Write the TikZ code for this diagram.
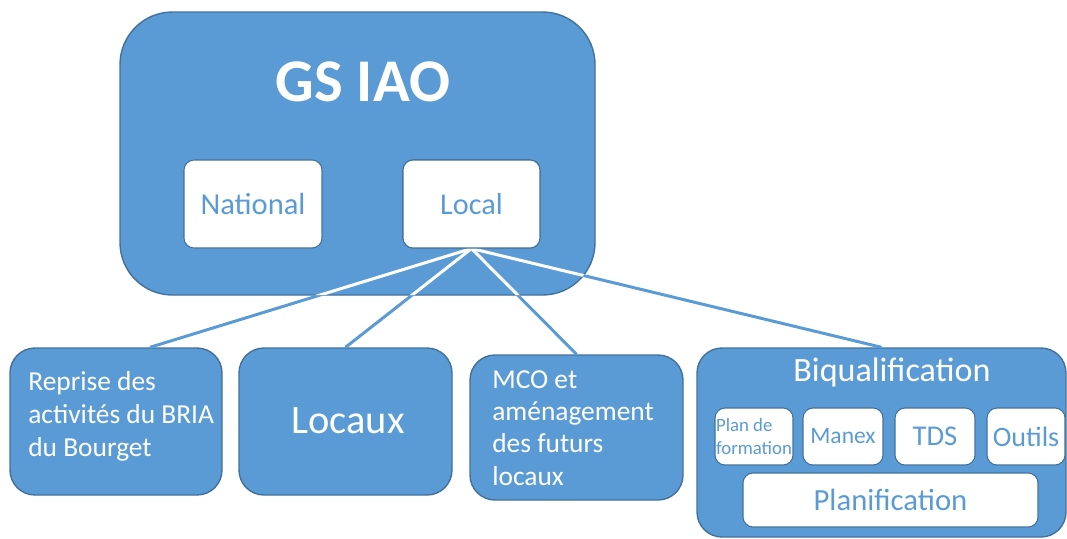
\documentclass[tikz,border=0pt]{standalone}
\usepackage{fontspec}
\setmainfont{Carlito}
\definecolor{fillblue}{HTML}{5B9BD5}
\definecolor{edgeblue}{HTML}{41719C}
\tikzset{
  bigbox/.style={draw=edgeblue, line width=0.8pt, fill=fillblue, rounded corners=1.05cm, inner sep=0pt},
  childbox/.style={draw=edgeblue, line width=0.8pt, fill=fillblue, rounded corners=0.5cm, inner sep=0pt},
  whitebox/.style={draw=edgeblue, line width=0.6pt, fill=white, rounded corners=0.2cm, inner sep=0pt, text=fillblue},
  wtxt/.style={text=white, inner sep=0pt, align=left},
  conn/.style={line width=1.7pt},
}
\begin{document}
\begin{tikzpicture}[x=0.02cm, y=-0.02cm]
\useasboundingbox (0,0) rectangle (1067,538);
% top group
\node[bigbox, minimum width=475*0.02cm, minimum height=283*0.02cm] (main) at (357.5,153.5) {};
% children
\node[childbox, minimum width=212*0.02cm, minimum height=147*0.02cm] (reprise) at (116,421.5) {};
\node[childbox, minimum width=213*0.02cm, minimum height=147*0.02cm] (locaux) at (345.5,421.5) {};
\node[childbox, minimum width=213*0.02cm, minimum height=145*0.02cm] (mco) at (576.5,427.5) {};
\node[childbox, minimum width=369*0.02cm, minimum height=189*0.02cm] (biq) at (881.5,442.5) {};
% connectors (blue outside the main box, white inside)
\coordinate (c1) at ([xshift=0.68cm]reprise.north);
\node[whitebox, minimum width=137*0.02cm, minimum height=88*0.02cm, font=\fontsize{17.2}{20}\selectfont] (local) at (471.5,204) {Local};
\draw[conn, fillblue] (local.south) -- (c1);
\draw[conn, fillblue] (local.south) -- (locaux.north);
\draw[conn, fillblue] (local.south) -- (mco.north);
\draw[conn, fillblue] (local.south) -- (biq.north);
\begin{scope}
  \clip[rounded corners=1.05cm] (120,12) rectangle (595,295);
  \draw[conn, white] (local.south) -- (c1);
  \draw[conn, white] (local.south) -- (locaux.north);
  \draw[conn, white] (local.south) -- (mco.north);
  \draw[conn, white] (local.south) -- (biq.north);
\end{scope}
\node[whitebox, minimum width=137*0.02cm, minimum height=88*0.02cm, font=\fontsize{17.2}{20}\selectfont] (localtop) at (471.5,204) {Local};
\node[whitebox, minimum width=138*0.02cm, minimum height=88*0.02cm, font=\fontsize{17.4}{20}\selectfont] (national) at (253,204) {National};
\node[wtxt, font=\bfseries\fontsize{34.5}{40}\selectfont] (title) at (363,82) {GS IAO};
% child texts
\node[wtxt, anchor=west, font=\fontsize{15.6}{18.7}\selectfont] (reprisetxt) at (28,416) {Reprise des\\activités du BRIA\\du Bourget};
\node[wtxt, font=\fontsize{23}{27}\selectfont] (locauxtxt) at (348,421) {Locaux};
\node[wtxt, anchor=west, font=\fontsize{15.6}{18.4}\selectfont] (mcotxt) at (492,428) {MCO et\\aménagement\\des futurs\\locaux};
\node[wtxt, font=\fontsize{19.4}{23}\selectfont] (biqtxt) at (892,372) {Biqualification};
% inner white boxes
\node[whitebox, minimum width=78*0.02cm, minimum height=57*0.02cm, align=left, font=\fontsize{10.7}{13}\selectfont] (plan) at (754,436.5) {Plan de\\formation};
\node[whitebox, minimum width=80*0.02cm, minimum height=57*0.02cm, font=\fontsize{13.4}{16}\selectfont] (manex) at (843,436.5) {Manex};
\node[whitebox, minimum width=80*0.02cm, minimum height=57*0.02cm, font=\fontsize{16.3}{19}\selectfont] (tds) at (935,436.5) {TDS};
\node[whitebox, minimum width=78*0.02cm, minimum height=57*0.02cm, font=\fontsize{16}{19}\selectfont] (outils) at (1026,436.5) {Outils};
\node[whitebox, minimum width=295*0.02cm, minimum height=54*0.02cm, font=\fontsize{17.5}{20}\selectfont] (planif) at (890.5,500) {Planification};
\end{tikzpicture}
\end{document}
